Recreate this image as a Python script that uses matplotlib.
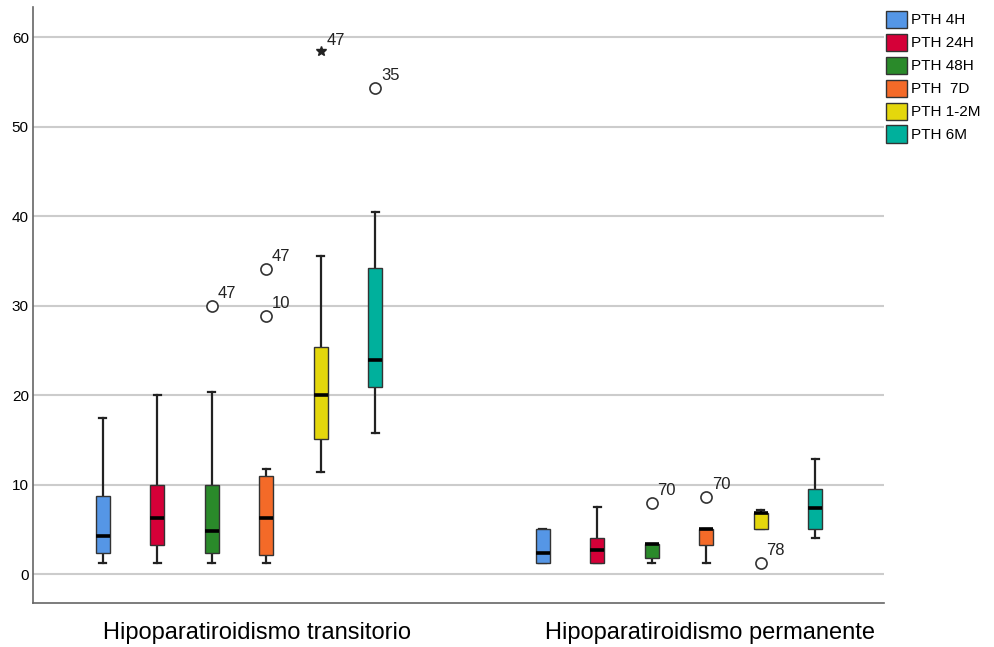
import matplotlib.pyplot as plt
from matplotlib.patches import Patch

plt.rcParams['font.family'] = ['Liberation Sans', 'DejaVu Sans']

groups = ["Hipoparatiroidismo transitorio", "Hipoparatiroidismo permanente"]
series = ["PTH 4H", "PTH 24H", "PTH 48H", "PTH  7D", "PTH 1-2M", "PTH 6M"]
colors = ["#5596e6", "#d50038", "#2a8a2a", "#f46a28", "#e4d70c", "#00b09c"]

# box stats per group: [whislo, q1, med, q3, whishi]
transitorio = [
    [1.2, 2.4, 4.25, 8.7, 17.4],
    [1.2, 3.2, 6.3, 10.0, 20.0],
    [1.2, 2.4, 4.8, 10.0, 20.3],
    [1.2, 2.1, 6.3, 11.0, 11.7],
    [11.4, 15.05, 20.0, 25.4, 35.5],
    [15.8, 20.9, 23.9, 34.2, 40.5],
]
permanente = [
    [1.2, 1.2, 2.4, 5.0, 5.0],
    [1.2, 1.2, 2.7, 4.0, 7.5],
    [1.2, 1.8, 3.3, 3.35, 3.35],
    [1.2, 3.2, 5.0, 5.0, 5.0],
    [5.0, 5.0, 6.85, 6.85, 7.1],
    [4.0, 5.0, 7.4, 9.5, 12.8],
]
# outliers: (series index, value, case label)
out_transitorio = [(2, 29.9, "47"), (3, 34.1, "47"), (3, 28.8, "10"), (5, 54.3, "35")]
ext_transitorio = [(4, 58.5, "47")]
out_permanente = [(2, 7.9, "70"), (3, 8.6, "70"), (4, 1.2, "78")]

fig = plt.figure(figsize=(9.94, 6.47), dpi=100)
ax = fig.add_axes([0.0332, 0.068, 0.856, 0.921])

offsets = [0.0, 8.07]
for g, (stats_list, outs, exts) in enumerate([(transitorio, out_transitorio, ext_transitorio),
                                              (permanente, out_permanente, [])]):
    stats = []
    for i, s in enumerate(stats_list):
        stats.append(dict(whislo=s[0], q1=s[1], med=s[2], q3=s[3], whishi=s[4], fliers=[]))
    pos = [offsets[g] + i for i in range(len(series))]
    bp = ax.bxp(stats, positions=pos, widths=0.26, patch_artist=True, showfliers=False,
                boxprops=dict(edgecolor="#333333", linewidth=1.0, zorder=3),
                medianprops=dict(color="black", linewidth=2.6, zorder=4),
                whiskerprops=dict(color="#222222", linewidth=1.6),
                capprops=dict(color="#222222", linewidth=1.6), capwidths=0.13)
    for patch, c in zip(bp["boxes"], colors):
        patch.set_facecolor(c)
    for i, v, lab in outs:
        x = offsets[g] + i
        ax.plot(x, v, "o", mfc="white", mec="#333333", ms=8, mew=1.2, zorder=4)
        ax.annotate(lab, (x, v), xytext=(4, 6), textcoords="offset points", fontsize=12, color="#222222")
    for i, v, lab in exts:
        x = offsets[g] + i
        ax.plot(x, v, "*", color="#222222", ms=7, zorder=4)
        ax.annotate(lab, (x, v), xytext=(4, 4), textcoords="offset points", fontsize=12, color="#222222")

ax.set_xlim(-1.28, 14.33)
ax.set_ylim(-3.24, 63.35)
ax.set_yticks(range(0, 61, 10))
ax.yaxis.grid(True, color="#cccccc", linewidth=1.5)
ax.set_axisbelow(True)
ax.set_xticks([2.83, 11.14])
ax.set_xticklabels(groups, fontsize=17)
ax.tick_params(axis="x", length=0, pad=14)
ax.tick_params(axis="y", length=0, labelsize=11, pad=3)
for s in ["top", "right"]:
    ax.spines[s].set_visible(False)
ax.spines["left"].set_color("#666666")
ax.spines["bottom"].set_color("#666666")
ax.spines["left"].set_linewidth(1.2)
ax.spines["bottom"].set_linewidth(1.2)

handles = [Patch(facecolor=c, edgecolor="#333333", label=s) for c, s in zip(colors, series)]
fig.legend(handles=handles, loc="upper left", bbox_to_anchor=(0.881, 1.0), frameon=False,
           fontsize=11, handlelength=1.35, handleheight=1.35, handletextpad=0.25, labelspacing=0.38,
           borderaxespad=0.3)

fig.savefig("out.png", dpi=100)
